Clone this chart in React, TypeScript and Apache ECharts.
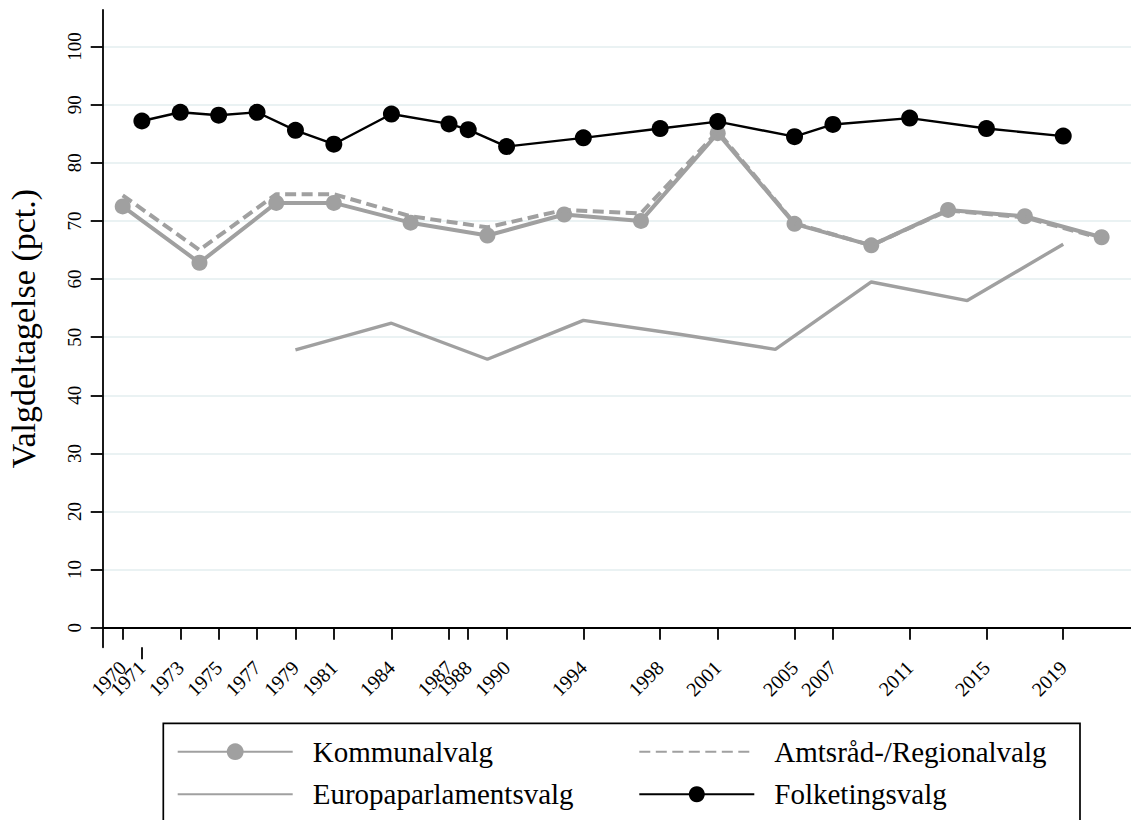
import React, { useEffect, useRef } from "react";
import * as echarts from "echarts";

const kommunalYears = [1970, 1974, 1978, 1981, 1985, 1989, 1993, 1997, 2001, 2005, 2009, 2013, 2017, 2021];
const kommunalValues = [72.5, 62.8, 73.1, 73.1, 69.7, 67.5, 71.1, 70.0, 85.1, 69.5, 65.8, 71.9, 70.8, 67.2];

const amtYears = [1970, 1974, 1978, 1981, 1985, 1989, 1993, 1997, 2001, 2005, 2009, 2013, 2017, 2021];
const amtValues = [74.4, 65.0, 74.6, 74.6, 70.8, 68.9, 71.9, 71.3, 85.4, 69.6, 65.8, 71.8, 70.6, 67.0];

const euroYears = [1979, 1984, 1989, 1994, 1999, 2004, 2009, 2014, 2019];
const euroValues = [47.8, 52.4, 46.2, 52.9, 50.5, 47.9, 59.5, 56.3, 66.0];

const folkYears = [1971, 1973, 1975, 1977, 1979, 1981, 1984, 1987, 1988, 1990, 1994, 1998, 2001, 2005, 2007, 2011, 2015, 2019];
const folkValues = [87.2, 88.7, 88.2, 88.7, 85.6, 83.2, 88.4, 86.7, 85.7, 82.8, 84.3, 85.9, 87.1, 84.5, 86.6, 87.7, 85.9, 84.6];

// tick labels of the x axis (the second one is carried by an overlaid axis so it is not hidden)
const xTickYears = [1970, 1973, 1975, 1977, 1979, 1981, 1984, 1987, 1988, 1990, 1994, 1998, 2001, 2005, 2007, 2011, 2015, 2019];
const xTickYearsExtra = [1971];
const yTicks = [0, 10, 20, 30, 40, 50, 60, 70, 80, 90, 100];

const seriesNames = ["Kommunalvalg", "Amtsråd-/Regionalvalg", "Europaparlamentsvalg", "Folketingsvalg"];

const pair = (xs: number[], ys: number[]) => xs.map((x, i) => [x, ys[i]]);

const GRAY = "#a0a0a0";
const FONT = "Liberation Serif";
const X_MIN = 1968.958;
const X_MAX = 2022.53;

export default function App() {
  const ref = useRef<HTMLDivElement>(null);
  useEffect(() => {
    if (!ref.current) return;
    const chart = echarts.init(ref.current, undefined, { renderer: "svg" });
    const legendText = {
      fontFamily: FONT,
      fontSize: 29,
      color: "#000",
      lineHeight: 30,
      padding: [0, 0, 0, 15],
    };
    const mkLegend = (name: string, left: number, top: number, itemHeight: number, hideSymbol: boolean) => ({
      data: [hideSymbol ? { name, itemStyle: { opacity: 0 } } : { name }],
      left,
      top,
      orient: "vertical",
      padding: 0,
      itemWidth: 115,
      itemHeight,
      selectedMode: false,
      textStyle: legendText,
    });
    const mkX = (ticks: number[], showLine: boolean) => ({
      type: "value",
      min: X_MIN,
      max: X_MAX,
      position: "bottom",
      offset: 0,
      axisLine: { show: showLine, lineStyle: { color: "#000", width: 1.8 } },
      axisTick: {
        show: true,
        customValues: ticks,
        length: 12,
        lineStyle: { color: "#000", width: 1.8 },
      },
      axisLabel: {
        customValues: ticks,
        rotate: 45,
        margin: 17,
        hideOverlap: false,
        fontFamily: FONT,
        fontSize: 20,
        color: "#000",
        formatter: (v: number) => String(Math.round(v)),
      },
      splitLine: { show: false },
    });
    chart.setOption({
      animation: false,
      backgroundColor: "#fff",
      grid: {
        left: 102.7,
        top: 10,
        right: 0,
        bottom: 172.7,
        containLabel: false,
        outerBoundsMode: "none",
      },
      xAxis: [mkX(xTickYears, true), mkX(xTickYearsExtra, false)],
      yAxis: {
        type: "value",
        min: -3.37,
        max: 106.3,
        name: "Valgdeltagelse (pct.)",
        nameLocation: "middle",
        nameRotate: 90,
        nameGap: 62,
        nameTextStyle: { fontFamily: FONT, fontSize: 34, color: "#000" },
        axisLine: { show: true, lineStyle: { color: "#000", width: 1.8 } },
        axisTick: {
          show: true,
          customValues: yTicks,
          length: 12,
          lineStyle: { color: "#000", width: 1.8 },
        },
        axisLabel: {
          customValues: yTicks,
          rotate: 90,
          margin: 19,
          hideOverlap: false,
          fontFamily: FONT,
          fontSize: 19,
          color: "#000",
        },
        splitLine: { show: true, lineStyle: { color: "#eaf2f3", width: 1.8 } },
      },
      legend: [
        mkLegend(seriesNames[0], 176.7, 736.7, 21, false),
        mkLegend(seriesNames[2], 176.7, 779.3, 21, true),
        mkLegend(seriesNames[1], 638.3, 736.7, 21, true),
        mkLegend(seriesNames[3], 638.3, 779.3, 20, false),
      ],
      graphic: [
        {
          type: "rect",
          shape: { x: 163.3, y: 723.3, width: 916.7, height: 200 },
          style: { fill: "none", stroke: "#000", lineWidth: 1.7 },
          silent: true,
        },
      ],
      series: [
        {
          name: seriesNames[0],
          type: "line",
          xAxisIndex: 0,
          data: pair(kommunalYears, kommunalValues),
          symbol: "circle",
          symbolSize: 16,
          itemStyle: { color: GRAY },
          lineStyle: { color: GRAY, width: 4 },
          z: 2,
        },
        {
          name: seriesNames[1],
          type: "line",
          xAxisIndex: 0,
          data: pair(amtYears, amtValues),
          symbol: "none",
          itemStyle: { color: GRAY },
          lineStyle: { color: GRAY, width: 4, type: [11, 5.5] },
          z: 3,
        },
        {
          name: seriesNames[2],
          type: "line",
          xAxisIndex: 0,
          data: pair(euroYears, euroValues),
          symbol: "none",
          itemStyle: { color: GRAY },
          lineStyle: { color: GRAY, width: 3.4 },
          z: 3,
        },
        {
          name: seriesNames[3],
          type: "line",
          xAxisIndex: 0,
          data: pair(folkYears, folkValues),
          symbol: "circle",
          symbolSize: 17,
          itemStyle: { color: "#000" },
          lineStyle: { color: "#000", width: 2.4 },
          z: 4,
        },
      ],
    });
    return () => chart.dispose();
  }, []);
  return (
    <div
      ref={ref}
      style={{ position: "absolute", left: 0, top: 0, width: 1131, height: 820, background: "#fff" }}
    />
  );
}
